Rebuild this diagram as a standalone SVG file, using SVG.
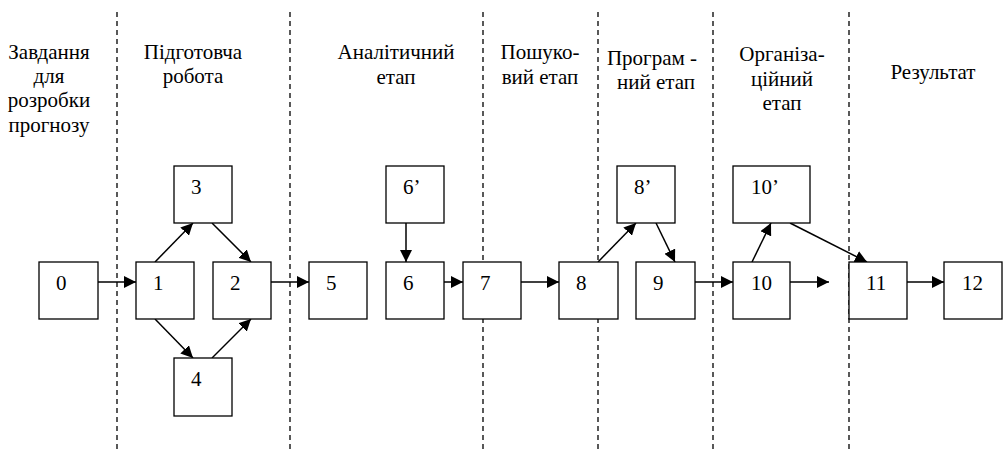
<svg xmlns="http://www.w3.org/2000/svg" width="1003" height="452" viewBox="0 0 1003 452">
<style>
text{font-family:'Liberation Serif','Times New Roman','DejaVu Serif',serif;font-size:21px;fill:#000}
.h{text-anchor:middle}
.box rect{fill:#fff;stroke:#000;stroke-width:1.3}
.div line{stroke:#000;stroke-width:1.3;stroke-dasharray:5 4}
.conn line{stroke:#000;stroke-width:1.5;marker-end:url(#arr)}
</style>
<defs>
<marker id="arr" viewBox="0 0 12 12" refX="12" refY="6" markerWidth="12" markerHeight="12" markerUnits="userSpaceOnUse" orient="auto">
<path d="M0,0 L12,6 L0,12 Z" fill="#000"/>
</marker>
</defs>
<rect width="1003" height="452" fill="#fff"/>
<g id="dividers" class="div">
<line x1="117" y1="12" x2="117" y2="452"/>
<line x1="290" y1="12" x2="290" y2="452"/>
<line x1="483" y1="12" x2="483" y2="452"/>
<line x1="598" y1="12" x2="598" y2="452"/>
<line x1="713" y1="12" x2="713" y2="452"/>
<line x1="849" y1="12" x2="849" y2="452"/>
</g>
<g id="headers">
<text class="h" x="49" y="59">Завдання</text>
<text class="h" x="49" y="83">для</text>
<text class="h" x="49" y="107">розробки</text>
<text class="h" x="49" y="132">прогнозу</text>
<text class="h" x="193" y="59">Підготовча</text>
<text class="h" x="193" y="83">робота</text>
<text class="h" x="396" y="59">Аналітичний</text>
<text class="h" x="396" y="84">етап</text>
<text class="h" x="540" y="59">Пошуко-</text>
<text class="h" x="540" y="84">вий етап</text>
<text class="h" x="652" y="65">Програм -</text>
<text class="h" x="656" y="89">ний етап</text>
<text class="h" x="782" y="61">Організа-</text>
<text class="h" x="782" y="86">ційний</text>
<text class="h" x="782" y="110">етап</text>
<text class="h" x="933" y="79">Результат</text>
</g>
<g id="connectors" class="conn">
<line x1="98" y1="282" x2="136" y2="282"/>
<line x1="155" y1="262" x2="193" y2="223"/>
<line x1="212" y1="223" x2="251" y2="262"/>
<line x1="155" y1="319" x2="193" y2="358"/>
<line x1="212" y1="358" x2="251" y2="319"/>
<line x1="271" y1="282" x2="309" y2="282"/>
<line x1="406" y1="223" x2="406" y2="262"/>
<line x1="444" y1="282" x2="463" y2="282"/>
<line x1="521" y1="282" x2="559" y2="282"/>
<line x1="598" y1="262" x2="636" y2="223"/>
<line x1="656" y1="223" x2="675" y2="262"/>
<line x1="695" y1="282" x2="733" y2="282"/>
<line x1="752" y1="262" x2="771" y2="223"/>
<line x1="790" y1="282" x2="829" y2="282"/>
<line x1="790" y1="223" x2="867" y2="262"/>
<line x1="907" y1="282" x2="944" y2="282"/>
</g>
<g id="n0" class="box"><rect x="39" y="262" width="59" height="57"/><text x="56" y="290">0</text></g>
<g id="n1" class="box"><rect x="136" y="262" width="58" height="57"/><text x="153" y="290">1</text></g>
<g id="n2" class="box"><rect x="213" y="262" width="58" height="57"/><text x="230" y="290">2</text></g>
<g id="n3" class="box"><rect x="174" y="166" width="58" height="57"/><text x="191" y="194">3</text></g>
<g id="n4" class="box"><rect x="174" y="358" width="58" height="58"/><text x="191" y="386">4</text></g>
<g id="n5" class="box"><rect x="309" y="262" width="58" height="57"/><text x="326" y="290">5</text></g>
<g id="n6p" class="box"><rect x="386" y="166" width="58" height="57"/><text x="403" y="194">6’</text></g>
<g id="n6" class="box"><rect x="386" y="262" width="58" height="57"/><text x="403" y="290">6</text></g>
<g id="n7" class="box"><rect x="463" y="262" width="58" height="57"/><text x="480" y="290">7</text></g>
<g id="n8" class="box"><rect x="559" y="262" width="59" height="57"/><text x="576" y="290">8</text></g>
<g id="n8p" class="box"><rect x="617" y="166" width="58" height="57"/><text x="634" y="194">8’</text></g>
<g id="n9" class="box"><rect x="636" y="262" width="59" height="57"/><text x="653" y="290">9</text></g>
<g id="n10p" class="box"><rect x="733" y="166" width="77" height="57"/><text x="751" y="194">10’</text></g>
<g id="n10" class="box"><rect x="733" y="262" width="57" height="57"/><text x="751" y="290">10</text></g>
<g id="n11" class="box"><rect x="849" y="262" width="58" height="57"/><text x="866" y="290">11</text></g>
<g id="n12" class="box"><rect x="944" y="262" width="58" height="57"/><text x="962" y="290">12</text></g>
</svg>
